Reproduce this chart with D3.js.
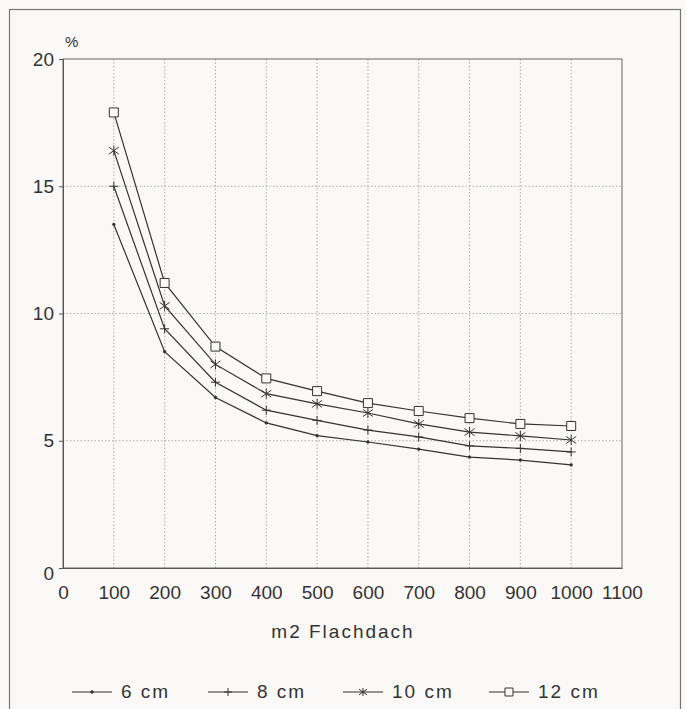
<!DOCTYPE html>
<html>
<head>
<meta http-equiv='Content-Type' content='text/html;charset=utf-8'/>
<title>Flachdach</title>
<script src='https://d3js.org/d3.v7.min.js'></script>
<style>
  body { margin: 0; background: #fbf9f7; }
  text { font-family: 'Liberation Sans', Arial, sans-serif; fill: #333; }
</style>
</head>
<body>
<script>
'use strict';
// data
const areas = [100, 200, 300, 400, 500, 600, 700, 800, 900, 1000];
const cm6  = [13.5, 8.5, 6.7, 5.7, 5.2, 4.95, 4.67, 4.36, 4.24, 4.05];
const cm8  = [15.0, 9.4, 7.3, 6.2, 5.8, 5.42, 5.15, 4.8, 4.7, 4.56];
const cm10 = [16.4, 10.3, 8.0, 6.85, 6.45, 6.09, 5.66, 5.34, 5.19, 5.03];
const cm12 = [17.9, 11.2, 8.7, 7.45, 6.95, 6.48, 6.17, 5.89, 5.66, 5.58];
const seriesNames = ['6 cm', '8 cm', '10 cm', '12 cm'];
const xTicks = [0, 100, 200, 300, 400, 500, 600, 700, 800, 900, 1000, 1100];
const yTicks = [0, 5, 10, 15, 20];

const width = 686, height = 709;
const ink = '#333';

const svg = d3.select('body').append('svg')
    .attr('width', width)
    .attr('height', height);

svg.append('rect')
    .attr('width', width).attr('height', height)
    .attr('fill', '#fbf9f7');

// outer frame
svg.append('rect')
    .attr('x', 9.5).attr('y', 9.5)
    .attr('width', 671).attr('height', 720)
    .attr('fill', 'none')
    .attr('stroke', '#777')
    .attr('stroke-width', 1.2);

const x = d3.scaleLinear().domain([0, 1100]).range([63, 622]);
const y = d3.scaleLinear().domain([0, 20]).range([568, 59]);

// dotted grid
svg.append('g').selectAll('line')
    .data(xTicks.filter(d => d > 0 && d < 1100))
    .join('line')
    .attr('x1', d => x(d)).attr('x2', d => x(d))
    .attr('y1', y(0)).attr('y2', y(20))
    .attr('stroke', '#999')
    .attr('stroke-width', 0.8)
    .attr('stroke-dasharray', '1.5,2');

svg.append('g').selectAll('line')
    .data(yTicks.filter(d => d > 0 && d < 20))
    .join('line')
    .attr('x1', x(0)).attr('x2', x(1100))
    .attr('y1', d => y(d)).attr('y2', d => y(d))
    .attr('stroke', '#999')
    .attr('stroke-width', 0.8)
    .attr('stroke-dasharray', '1.5,2');

// plot box
svg.append('rect')
    .attr('x', x(0)).attr('y', y(20))
    .attr('width', x(1100) - x(0)).attr('height', y(0) - y(20))
    .attr('fill', 'none')
    .attr('stroke', '#666')
    .attr('stroke-width', 1);

// y axis
const yAxis = svg.append('g')
    .attr('transform', `translate(${x(0)},0)`)
    .call(d3.axisLeft(y).tickValues(yTicks).tickSize(4).tickPadding(5).tickFormat(d3.format('d')));
yAxis.select('.domain').attr('stroke', '#555');
yAxis.selectAll('.tick line').attr('stroke', '#555');
yAxis.selectAll('.tick text')
    .style('font-size', '19px')
    .attr('fill', ink);
yAxis.selectAll('.tick').filter(d => d === 0).select('text').attr('dy', '0.6em');

// x axis
const xAxis = svg.append('g')
    .attr('transform', `translate(0,${y(0)})`)
    .call(d3.axisBottom(x).tickValues(xTicks).tickSize(0).tickPadding(18).tickFormat(d3.format('d')));
xAxis.select('.domain').attr('stroke', '#555');
xAxis.selectAll('.tick text')
    .style('font-size', '19px')
    .attr('fill', ink);

svg.append('text')
    .attr('x', 65).attr('y', 47)
    .style('font-size', '15px')
    .text('%');

svg.append('text')
    .attr('x', 343).attr('y', 638)
    .attr('text-anchor', 'middle')
    .style('font-size', '19px')
    .style('letter-spacing', '2px')
    .text('m2 Flachdach');

// markers
function marker(kind, s) {
  const p = d3.path();
  if (kind === 'dot') {
    p.arc(0, 0, 1.4, 0, 2 * Math.PI);
  } else if (kind === 'plus') {
    p.moveTo(-s, 0); p.lineTo(s, 0);
    p.moveTo(0, -s); p.lineTo(0, s);
  } else if (kind === 'star') {
    p.moveTo(0, -s); p.lineTo(0, s);
    p.moveTo(-s, -s * 0.7); p.lineTo(s, s * 0.7);
    p.moveTo(-s, s * 0.7); p.lineTo(s, -s * 0.7);
  } else {
    p.rect(-s, -s, 2 * s, 2 * s);
  }
  return p.toString();
}

const series = [
  {name: seriesNames[0], values: cm6,  kind: 'dot',    size: 1.5},
  {name: seriesNames[1], values: cm8,  kind: 'plus',   size: 4.5},
  {name: seriesNames[2], values: cm10, kind: 'star',   size: 5},
  {name: seriesNames[3], values: cm12, kind: 'square', size: 4.5}
];

const line = d3.line()
    .x((d, i) => x(areas[i]))
    .y(d => y(d));

series.forEach(s => {
  svg.append('path')
      .attr('d', line(s.values))
      .attr('fill', 'none')
      .attr('stroke', ink)
      .attr('stroke-width', 1.2);

  svg.append('g').selectAll('path')
      .data(s.values)
      .join('path')
      .attr('transform', (d, i) => `translate(${x(areas[i])},${y(d)})`)
      .attr('d', marker(s.kind, s.size))
      .attr('fill', s.kind === 'dot' ? ink : (s.kind === 'square' ? '#fbf9f7' : 'none'))
      .attr('stroke', ink)
      .attr('stroke-width', s.kind === 'dot' ? 0.5 : 1);
});

// legend
const legendX = [72, 208, 343, 489];
const legend = svg.append('g').attr('transform', 'translate(0,692)');
series.forEach((s, i) => {
  const g = legend.append('g').attr('transform', `translate(${legendX[i]},0)`);
  g.append('line')
      .attr('x1', 0).attr('x2', 40)
      .attr('stroke', ink)
      .attr('stroke-width', 1.1);
  g.append('path')
      .attr('transform', 'translate(20,0)')
      .attr('d', marker(s.kind, s.kind === 'dot' ? 1 : 4))
      .attr('fill', s.kind === 'dot' ? ink : (s.kind === 'square' ? '#fbf9f7' : 'none'))
      .attr('stroke', ink)
      .attr('stroke-width', s.kind === 'dot' ? 0.5 : 1);
  g.append('text')
      .attr('x', 49).attr('y', 6)
      .style('font-size', '19px')
      .style('letter-spacing', '2px')
      .text(s.name);
});
</script>
</body>
</html>
